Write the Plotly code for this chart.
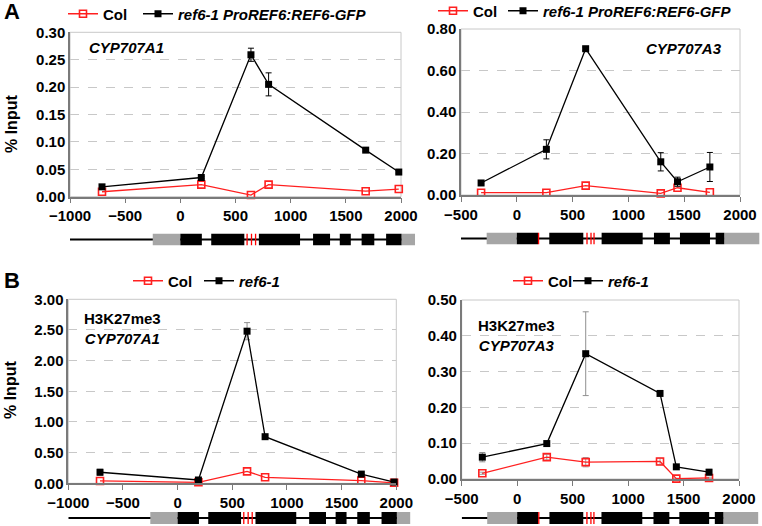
import plotly.graph_objects as go

W, H = 762, 526
FONT = "Arial, Liberation Sans, sans-serif"

def px(x):
    return x / W

def py(y):
    return 1 - y / H

# ---------------- data ----------------
# Panel A (REF6-GFP ChIP)
A1_x = [-710, 190, 640, 800, 1680, 1980]
A1_col = [0.009, 0.022, 0.003, 0.022, 0.010, 0.014]
A1_ref = [0.018, 0.035, 0.259, 0.205, 0.085, 0.045]
A1_ref_err = [0.002, 0.002, 0.012, 0.021, 0.002, 0.002]

A3_x = [-320, 265, 617, 1290, 1440, 1730]
A3_col = [0.011, 0.011, 0.045, 0.008, 0.035, 0.013]
A3_ref = [0.058, 0.220, 0.705, 0.160, 0.064, 0.135]
A3_ref_err = [0.006, 0.046, 0.008, 0.044, 0.022, 0.070]

# Panel B (H3K27me3 ChIP)
B1_x = [-710, 190, 635, 800, 1680, 1980]
B1_col = [0.038, 0.016, 0.195, 0.098, 0.043, 0.008]
B1_ref = [0.180, 0.054, 2.480, 0.760, 0.150, 0.020]
B1_ref_err = [0.050, 0.010, 0.140, 0.020, 0.020, 0.010]

B3_x = [-314, 267, 618, 1288, 1435, 1730]
B3_col = [0.016, 0.061, 0.047, 0.049, 0.001, 0.003]
B3_col_err = [0.003, 0.008, 0.013, 0.009, 0.001, 0.002]
B3_ref = [0.061, 0.099, 0.350, 0.239, 0.034, 0.019]
B3_ref_err = [0.013, 0.003, 0.117, 0.003, 0.004, 0.008]

# Gene structures (bp relative to ATG)
A1_gene_line = [-1000, 2005]
A1_utr = [(-250, 0), (2005, 2127)]
A1_exons = [(0, 195), (280, 580), (712, 1085), (1203, 1357), (1445, 1545), (1643, 1758), (1865, 2005)]
A1_marks = [605, 645, 682]

A3_gene_line = [-500, 1859]
A3_utr = [(-270, 0), (1859, 2173)]
A3_exons = [(0, 190), (291, 596), (760, 1128), (1229, 1372), (1462, 1731), (1782, 1859)]
A3_marks = [195, 629, 665, 692]

LEG_A = ["Col", "<i>ref6-1 ProREF6:REF6-GFP</i>"]
LEG_B = ["Col", "<i>ref6-1</i>"]

RED = "#ff2020"

fig = go.Figure()

# panel geometry in pixels: (x0, x1, ytop, ybottom); legend line starts (col, ref) and legend y
panels = [
    dict(k="", xpix=(70, 401), ypix=(32.3, 196.7), xr=[-1000, 2000], yr=[0, 0.30], dy=0.05,
         x=A1_x, col=A1_col, col_err=None, ref=A1_ref, ref_err=A1_ref_err, names=LEG_A,
         leg=((68, 143), 14), errc="black"),
    dict(k="2", xpix=(461, 740), ypix=(29, 195), xr=[-500, 2000], yr=[0, 0.80], dy=0.20,
         x=A3_x, col=A3_col, col_err=None, ref=A3_ref, ref_err=A3_ref_err, names=LEG_A,
         leg=((438, 508), 11), errc="black"),
    dict(k="3", xpix=(68.3, 396.3), ypix=(299.3, 483.3), xr=[-1000, 2000], yr=[0, 3.0], dy=0.5,
         x=B1_x, col=B1_col, col_err=None, ref=B1_ref, ref_err=B1_ref_err, names=LEG_B,
         leg=((133, 204), 281), errc="#909090"),
    dict(k="4", xpix=(461.7, 739), ypix=(300, 479), xr=[-500, 2000], yr=[0, 0.50], dy=0.1,
         x=B3_x, col=B3_col, col_err=B3_col_err, ref=B3_ref, ref_err=B3_ref_err, names=LEG_B,
         leg=((513, 573), 281), errc="#909090"),
]

shapes = []
annotations = []
layout = {}

legn = 0
def next_legend():
    global legn
    legn += 1
    return "legend" if legn == 1 else "legend%d" % legn

for i, p in enumerate(panels):
    k = p["k"]
    xa = "x" + k
    ya = "y" + k
    (lc, lr), ly = p["leg"]
    leg_c = next_legend()
    leg_r = next_legend()
    fig.add_trace(go.Scatter(
        x=p["x"], y=p["col"], name=p["names"][0], mode="lines+markers",
        line=dict(color=RED, width=1.3),
        marker=dict(symbol="square-open", size=7, color=RED, line=dict(width=1.6, color=RED)),
        error_y=(dict(type="data", array=p["col_err"], color="#a0a0a0", thickness=1, width=3)
                 if p["col_err"] else dict(visible=False)),
        xaxis=xa, yaxis=ya, legend=leg_c, cliponaxis=False,
    ))
    fig.add_trace(go.Scatter(
        x=p["x"], y=p["ref"], name=p["names"][1], mode="lines+markers",
        line=dict(color="black", width=1.3),
        marker=dict(symbol="square", size=7, color="black"),
        error_y=dict(type="data", array=p["ref_err"], color=p["errc"], thickness=1, width=3),
        xaxis=xa, yaxis=ya, legend=leg_r, cliponaxis=False,
    ))
    for lg, lx in ((leg_c, lc), (leg_r, lr)):
        layout[lg] = dict(
            x=px(lx - 5), y=py(ly), xanchor="left", yanchor="middle", orientation="h",
            font=dict(family=FONT, size=15, color="black", weight="bold"),
            bgcolor="rgba(0,0,0,0)", itemwidth=30, borderwidth=0,
        )
    x0, x1 = p["xpix"]
    yt, yb = p["ypix"]
    layout["xaxis" + k] = dict(
        domain=[px(x0), px(x1)], range=p["xr"], anchor=ya, dtick=500, tick0=0,
        showgrid=False, zeroline=False, showline=True, linecolor="#7a7a7a", linewidth=1.5,
        ticks="outside", ticklen=5, tickcolor="#7a7a7a",
        tickfont=dict(family=FONT, size=15, color="black", weight="bold"),
    )
    layout["yaxis" + k] = dict(
        domain=[py(yb), py(yt)], range=p["yr"], anchor=xa, dtick=p["dy"], tick0=0,
        tickformat=".2f", showgrid=True, gridcolor="#c8c8c8", griddash="dash", gridwidth=1,
        zeroline=False, showline=True, linecolor="#7a7a7a", linewidth=1.5, ticks="",
        tickfont=dict(family=FONT, size=15, color="black", weight="bold"),
    )
    shapes.append(dict(type="rect", xref=xa + " domain", yref=ya + " domain",
                       x0=0, x1=1, y0=0, y1=1, line=dict(color="#c8c8c8", width=1), layer="below"))

# ---------------- gene diagrams ----------------
genes = [
    dict(k="5", main=panels[0], line=A1_gene_line, utr=A1_utr, exons=A1_exons, marks=A1_marks,
         ypix=(233.5, 245.5), xend=2200),
    dict(k="6", main=panels[1], line=A3_gene_line, utr=A3_utr, exons=A3_exons, marks=A3_marks,
         ypix=(232.5, 244.5), xend=2200),
    dict(k="7", main=panels[2], line=A1_gene_line, utr=A1_utr, exons=A1_exons, marks=A1_marks,
         ypix=(512, 524), xend=2200),
    dict(k="8", main=panels[3], line=A3_gene_line, utr=A3_utr, exons=A3_exons, marks=A3_marks,
         ypix=(512, 524), xend=2200),
]
for g in genes:
    k = g["k"]
    m = g["main"]
    x0, x1 = m["xpix"]
    r0, r1 = m["xr"]
    xe = x0 + (x1 - x0) * (g["xend"] - r0) / (r1 - r0)
    xe = min(xe, W)
    xend = r0 + (xe - x0) / (x1 - x0) * (r1 - r0)
    yt, yb = g["ypix"]
    layout["xaxis" + k] = dict(domain=[px(x0), px(xe)], range=[r0, xend], visible=False,
                               anchor="y" + k, fixedrange=True)
    layout["yaxis" + k] = dict(domain=[py(yb), py(yt)], range=[0, 1], visible=False,
                               anchor="x" + k, fixedrange=True)
    fig.add_trace(go.Scatter(x=[r0], y=[0.5], mode="markers", marker=dict(opacity=0),
                             showlegend=False, hoverinfo="skip", xaxis="x" + k, yaxis="y" + k))
    xr, yr = "x" + k, "y" + k
    shapes.append(dict(type="line", xref=xr, yref=yr, x0=g["line"][0], x1=g["line"][1],
                       y0=0.5, y1=0.5, line=dict(color="black", width=2.2)))
    for a, b in g["utr"]:
        shapes.append(dict(type="rect", xref=xr, yref=yr, x0=a, x1=b, y0=0, y1=1,
                           fillcolor="#a6a6a6", line=dict(width=0)))
    for a, b in g["exons"]:
        shapes.append(dict(type="rect", xref=xr, yref=yr, x0=a, x1=b, y0=0, y1=1,
                           fillcolor="black", line=dict(width=0)))
    for mk in g["marks"]:
        shapes.append(dict(type="line", xref=xr, yref=yr, x0=mk, x1=mk, y0=0, y1=1,
                           line=dict(color="red", width=1.3)))

# ---------------- text ----------------
def ann(text, x, y, size=15, xanchor="left", angle=0):
    annotations.append(dict(text=text, x=px(x), y=py(y), xref="paper", yref="paper",
                            xanchor=xanchor, yanchor="middle", showarrow=False, textangle=angle,
                            font=dict(family=FONT, size=size, color="black", weight="bold")))

ann("A", 2, 12, size=22)
ann("B", 2, 280, size=22)
ann("<i>CYP707A1</i>", 87, 47)
ann("<i>CYP707A3</i>", 644, 48)
ann("H3K27me3<br><i>CYP707A1</i>", 82, 328)
ann("H3K27me3<br><i>CYP707A3</i>", 476, 335)
ann("% Input", 11, 124, size=16, xanchor="center", angle=-90)
ann("% Input", 10, 390, size=16, xanchor="center", angle=-90)

fig.update_layout(
    width=W, height=H, margin=dict(l=0, r=0, t=0, b=0, pad=0, autoexpand=False),
    paper_bgcolor="white", plot_bgcolor="white",
    shapes=shapes, annotations=annotations, showlegend=True,
    **layout,
)

fig.write_html(
    "out.html",
    config={"displayModeBar": False},
    post_script="document.body.style.margin='0';document.body.style.overflow='hidden';",
)
